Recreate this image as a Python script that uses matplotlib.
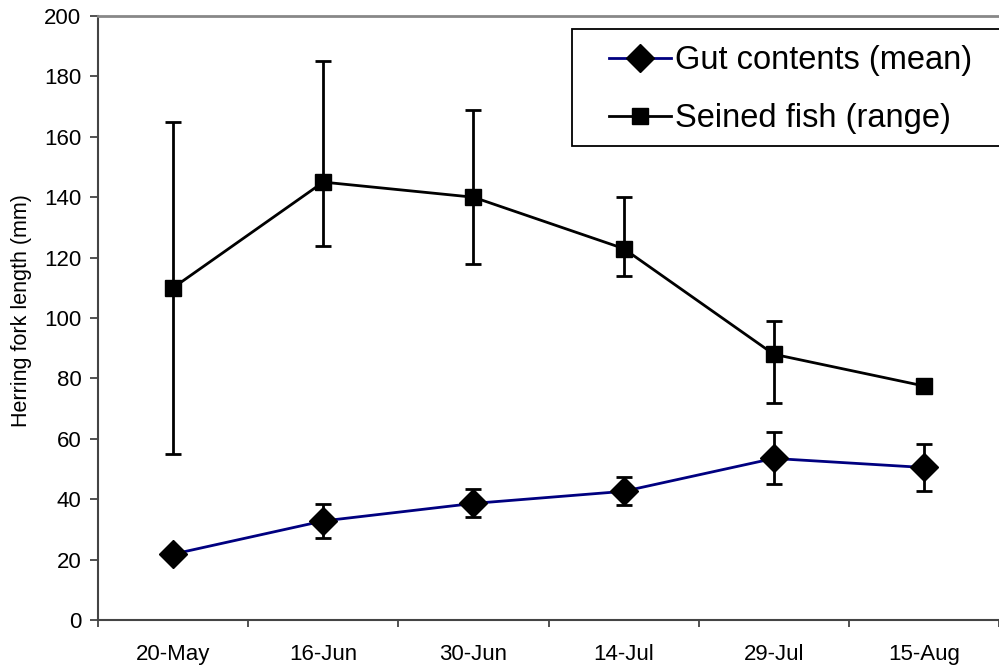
import matplotlib
matplotlib.use("Agg")
import matplotlib.pyplot as plt
from matplotlib.patches import Rectangle
import numpy as np

plt.rcParams['font.family'] = ['Liberation Sans', 'DejaVu Sans']

dates = ["20-May", "16-Jun", "30-Jun", "14-Jul", "29-Jul", "15-Aug"]
gut_mean = [21.8, 32.8, 38.6, 42.6, 53.5, 50.5]
gut_low = [21.8, 27.3, 34.0, 38.2, 44.9, 42.8]
gut_high = [21.8, 38.3, 43.3, 47.5, 62.4, 58.3]
seine_mid = [110, 145, 140, 123, 88, 77.5]
seine_low = [55, 124, 118, 114, 72, 76]
seine_high = [165, 185, 169, 140, 99, 79.5]

fig = plt.figure(figsize=(9.99, 6.66), dpi=100)
ax = fig.add_axes([98/999, 46/666, 901/999, 604/666])

x = np.arange(len(dates))

gm = np.array(gut_mean)
gerr = [gm - np.array(gut_low), np.array(gut_high) - gm]
sm = np.array(seine_mid)
serr = [sm - np.array(seine_low), np.array(seine_high) - sm]

ax.errorbar(x, sm, yerr=serr, fmt='none', ecolor='black', elinewidth=2, capsize=6, capthick=2, zorder=2)
ax.errorbar(x, gm, yerr=gerr, fmt='none', ecolor='black', elinewidth=2, capsize=6, capthick=2, zorder=2)
ax.plot(x, gm, color='#000080', lw=2, marker='D', ms=14, mfc='black', mec='black', label='Gut contents (mean)', zorder=3)
ax.plot(x, sm, color='black', lw=2, marker='s', ms=11, mfc='black', mec='black', label='Seined fish (range)', zorder=3)

ax.set_xlim(-0.5, 5.5)
ax.set_ylim(0, 200)
ax.set_yticks(np.arange(0, 201, 20))
ax.set_xticks(x)
ax.set_xticklabels(dates)
ax.set_xticks(np.arange(-0.5, 5.6, 1), minor=True)
ax.tick_params(axis='x', which='major', length=0, labelsize=16, pad=17)
ax.tick_params(axis='x', which='minor', length=5, width=1.2, color='#333333')
ax.tick_params(axis='y', length=6, width=1.2, color='#333333', labelsize=16, pad=6)
ax.set_ylabel('Herring fork length (mm)', fontsize=15.5)
ax.yaxis.set_label_coords(-0.073, 0.513)

for s in ['left', 'bottom']:
    ax.spines[s].set_color('#444444')
    ax.spines[s].set_linewidth(1.5)
ax.spines['top'].set_color('#888888')
ax.spines['top'].set_linewidth(2)
ax.spines['right'].set_visible(False)

# legend box (extends past the right edge like the reference)
box = Rectangle((572/999, 1 - 146/666), 0.5, 117/666, transform=fig.transFigure,
                fill=True, facecolor='white', edgecolor='black', lw=1.3, zorder=5)
fig.patches.append(box)

leg = fig.legend(loc='upper left', bbox_to_anchor=(609/999, 1 - 45/666), fontsize=23.5,
                 frameon=False, handlelength=1.9, borderpad=0, labelspacing=0.84,
                 handletextpad=0.12, borderaxespad=0)
leg.set_zorder(6)

fig.savefig('out.png', dpi=100)
